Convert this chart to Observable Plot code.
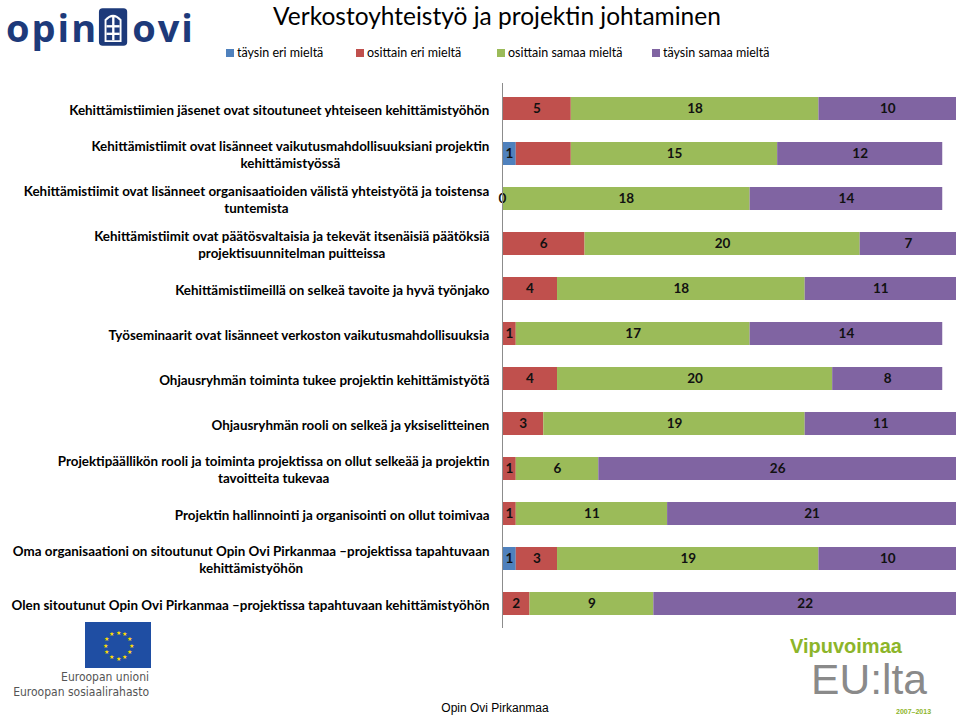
<!DOCTYPE html>
<html><head><meta charset="utf-8">
<script src="https://cdn.jsdelivr.net/npm/d3@7"></script>
<script src="https://cdn.jsdelivr.net/npm/@observablehq/plot@0.6"></script>
<style>
body{margin:0;background:#fff;}
#page{position:relative;width:959px;height:718px;overflow:hidden;font-family:Lato,"Open Sans",sans-serif;background:#fff;}
#title{position:absolute;left:0;width:994px;top:3px;text-align:center;font-size:24.5px;line-height:1.1;color:#000;white-space:nowrap;}
#legend{position:absolute;top:45px;left:0;width:959px;height:18px;font-size:12.5px;color:#000;}
#legend .item{position:absolute;top:0;white-space:nowrap;}
#legend .sw{display:inline-block;width:8px;height:8px;margin-right:3px;vertical-align:0px;}
#chart{position:absolute;left:0;top:80px;}
#logo{position:absolute;left:6px;top:6px;font-family:"Open Sans",Lato,sans-serif;font-weight:700;font-size:38px;line-height:1.1;color:#1d3a7a;white-space:nowrap;letter-spacing:2px;}
#logo svg{vertical-align:-6px;margin:0 2px 0 0;}
#eu{position:absolute;left:85px;top:622px;}
#eutext{position:absolute;left:0;width:149px;top:670px;text-align:right;font-family:"Liberation Sans Narrow","DejaVu Sans Condensed",sans-serif;font-size:12px;color:#555;line-height:15px;}
#footer{position:absolute;left:0;width:990px;top:702px;text-align:center;font-family:"Liberation Sans",Arial,sans-serif;font-size:12px;line-height:1.1;color:#000;}
#vipu{position:absolute;left:790px;top:636px;font-family:"Liberation Sans",sans-serif;font-weight:700;font-size:20px;line-height:1;color:#8db52a;white-space:nowrap;}
#eulta{position:absolute;left:811px;top:661px;font-family:"Liberation Sans",sans-serif;font-weight:400;font-size:43px;line-height:0.85;color:#8a8a8a;transform:scaleX(0.99);transform-origin:left top;white-space:nowrap;}
#years{position:absolute;left:896px;top:708px;font-family:"Liberation Sans",sans-serif;font-size:7px;line-height:1;color:#8db52a;font-weight:700;}
</style></head><body><div id="page">
<div id="logo">opin<svg width="32" height="42" viewBox="0 0 34 44"><rect x="1" y="2" width="30" height="40" rx="4" fill="#1d3a7a"/><path d="M7 38 V14 Q16 4 25 14 V38 Z" fill="#fff"/><path d="M9 36 V15 Q16 8 23 15 V36 Z" fill="#1d3a7a"/><rect x="15" y="11" width="2.5" height="25" fill="#fff"/><rect x="9" y="20" width="14" height="2.5" fill="#fff"/><rect x="9" y="28" width="14" height="2.5" fill="#fff"/></svg>ovi</div>
<div id="title">Verkostoyhteistyö ja projektin johtaminen</div>
<div id="legend"></div>
<div id="chart"></div>
<svg id="eu" width="66" height="46"></svg>
<div id="eutext">Euroopan unioni<br>Euroopan sosiaalirahasto</div>
<div id="vipu">Vipuvoimaa</div>
<div id="eulta">EU:lta</div>
<div id="years">2007–2013</div>
<div id="footer">Opin Ovi Pirkanmaa</div>
</div>
<script>
const questions = [
  "Kehittämistiimien jäsenet ovat sitoutuneet yhteiseen kehittämistyöhön",
  "Kehittämistiimit ovat lisänneet vaikutusmahdollisuuksiani projektin\nkehittämistyössä",
  "Kehittämistiimit ovat lisänneet organisaatioiden välistä yhteistyötä ja toistensa\ntuntemista",
  "Kehittämistiimit ovat päätösvaltaisia ja tekevät itsenäisiä päätöksiä\nprojektisuunnitelman puitteissa",
  "Kehittämistiimeillä on selkeä tavoite ja hyvä työnjako",
  "Työseminaarit ovat lisänneet verkoston vaikutusmahdollisuuksia",
  "Ohjausryhmän toiminta tukee projektin kehittämistyötä",
  "Ohjausryhmän rooli on selkeä ja yksiselitteinen",
  "Projektipäällikön rooli ja toiminta projektissa on ollut selkeää ja projektin\ntavoitteita tukevaa",
  "Projektin hallinnointi ja organisointi on ollut toimivaa",
  "Oma organisaationi on sitoutunut Opin Ovi Pirkanmaa –projektissa tapahtuvaan\nkehittämistyöhön",
  "Olen sitoutunut Opin Ovi Pirkanmaa –projektissa tapahtuvaan kehittämistyöhön"
];
const seriesNames = ["täysin eri mieltä", "osittain eri mieltä", "osittain samaa mieltä", "täysin samaa mieltä"];
const seriesColors = ["#4F81BD", "#C0504D", "#9BBB59", "#8064A2"];
const taysinEriMielta    = [null, 1, 0, null, null, null, null, null, null, null, 1, null];
const osittainEriMielta  = [5, 4, null, 6, 4, 1, 4, 3, 1, 1, 3, 2];
const osittainSamaaMielta = [18, 15, 18, 20, 18, 17, 20, 19, 6, 11, 19, 9];
const taysinSamaaMielta  = [10, 12, 14, 7, 11, 14, 8, 11, 26, 21, 10, 22];
const unlabeled = [[1, 1]]; // [question index, series index] drawn without a value label
const xMax = 33;

const seriesValues = [taysinEriMielta, osittainEriMielta, osittainSamaaMielta, taysinSamaaMielta];
const data = [];
questions.forEach((q, i) => {
  seriesValues.forEach((vals, s) => {
    const v = vals[i];
    if (v == null) return;
    const hidden = unlabeled.some(([qi, si]) => qi === i && si === s);
    data.push({q, s: seriesNames[s], value: v, label: hidden ? null : String(v)});
  });
});

// legend
const legend = document.getElementById("legend");
const legendLeft = [226, 356, 497, 652];
seriesNames.forEach((n, i) => {
  const el = document.createElement("div");
  el.className = "item";
  el.style.left = legendLeft[i] + "px";
  el.innerHTML = `<span class="sw" style="background:${seriesColors[i]}"></span>${n}`;
  legend.appendChild(el);
});

// measure label widths for centered wrapped lines, right-aligned block
const labelFont = "Lato";
const labelWeight = 700;
const ctx = document.createElement("canvas").getContext("2d");
ctx.font = `${labelWeight} 14px ${labelFont}`;
const refW = ctx.measureText(questions[0]).width;
const labelSize = 14 * 421 / refW;
ctx.font = `${labelWeight} ${labelSize}px ${labelFont}`;
const gap = 13;

const labelMarks = questions.map(q => {
  const w = Math.max(...q.split("\n").map(l => ctx.measureText(l).width));
  return Plot.text([q], {
    y: d => d, text: d => d, frameAnchor: "left", textAnchor: "middle",
    dx: -gap - w / 2, lineHeight: 1.3, fontSize: labelSize, fontWeight: labelWeight,
    fontFamily: labelFont, fill: "#000"
  });
});

const chart = Plot.plot({
  width: 959, height: 550,
  marginLeft: 502, marginRight: 3, marginTop: 3, marginBottom: 2,
  style: {background: "transparent", fontFamily: labelFont},
  x: {domain: [0, xMax], axis: null},
  y: {domain: questions, paddingInner: 0.5, paddingOuter: 0.25, axis: null},
  color: {domain: seriesNames, range: seriesColors},
  marks: [
    Plot.barX(data, Plot.stackX({x: "value", y: "q", fill: "s"})),
    Plot.text(data, Plot.stackX({x: "value", y: "q", text: "label", fontSize: 13.5, fontWeight: 700, fill: "#111", fontFamily: labelFont})),
    Plot.ruleX([0], {stroke: "#8c8c8c", strokeWidth: 1}),
    ...labelMarks
  ]
});
document.getElementById("chart").appendChild(chart);

// EU flag decoration
const eu = d3.select("#eu");
eu.append("rect").attr("width", 66).attr("height", 46).attr("fill", "#1f4ea3");
d3.range(12).forEach(k => {
  const a = k / 12 * 2 * Math.PI;
  eu.append("text").attr("x", 33 + 13 * Math.sin(a)).attr("y", 23 - 13 * Math.cos(a))
    .attr("text-anchor", "middle").attr("dominant-baseline", "central")
    .attr("font-size", 6).attr("fill", "#ffdd00").text("★");
});
</script>
</body></html>
